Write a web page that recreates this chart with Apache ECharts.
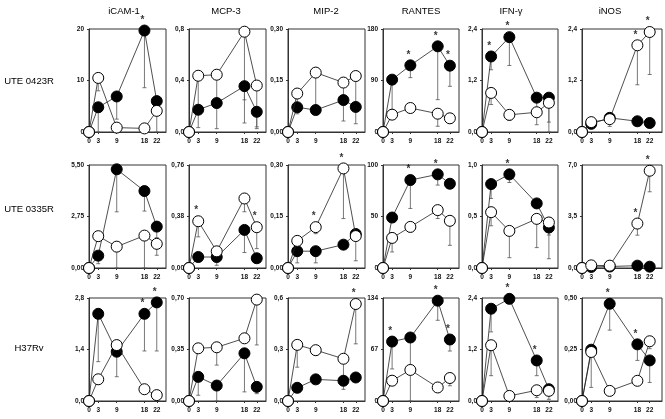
<!DOCTYPE html>
<html><head><meta charset="utf-8">
<script src="https://cdn.jsdelivr.net/npm/echarts@6/dist/echarts.min.js"></script>
<style>html,body{margin:0;padding:0;background:#fff}#c{width:665px;height:419px}</style>
</head><body><div id="c"></div><script>
const days = [0, 3, 9, 18, 22];
const cytokines = ['iCAM-1', 'MCP-3', 'MIP-2', 'RANTES', 'IFN-γ', 'iNOS'];
const strains = ['UTE 0423R', 'UTE 0335R', 'H37Rv'];
const yMax = [[20, 0.8, 0.30, 180, 2.4, 2.4], [5.5, 0.76, 0.30, 100, 1.0, 7.0], [2.8, 0.70, 0.6, 134, 2.4, 0.50]];
const yDecimals = [[0, 1, 2, 0, 1, 1], [2, 2, 2, 0, 1, 1], [1, 2, 1, 0, 1, 2]];

// UTE 0423R
const r1Filled = [
  [0, 4.8, 6.9, 19.7, 6.0],
  [0, 0.173, 0.225, 0.356, 0.157],
  [0, 0.072, 0.064, 0.093, 0.073],
  [0, 91.5, 116.5, 149.7, 115.9],
  [0, 1.76, 2.21, 0.80, 0.80],
  [0, 0.19, 0.33, 0.25, 0.21]
];
const r1FilledLow = [
  [null, 0, 2.5, 8.6, 4.8],
  [null, 0.034, 0.026, 0.07, 0.026],
  [null, 0.053, null, 0.032, 0.024],
  [null, 39, 95, 56.5, 79.8],
  [null, 1.45, 1.55, 0.17, 0.23],
  [null, null, null, null, null]
];
const r1Open = [
  [0, 10.5, 0.85, 0.7, 4.1],
  [0, 0.437, 0.445, 0.779, 0.361],
  [0, 0.112, 0.173, 0.144, 0.163],
  [0, 30.3, 41.9, 32, 23.9],
  [0, 0.91, 0.40, 0.46, 0.68],
  [0, 0.23, 0.30, 2.02, 2.33]
];
const r1OpenLow = [
  [null, 8.0, null, null, 0],
  [null, 0.18, 0.23, 0.25, 0.04],
  [null, 0.08, 0.07, 0.093, 0.06],
  [null, null, 36, 10, 15.7],
  [null, 0.64, 0.27, null, 0],
  [null, null, 0.13, 1.10, 1.34]
];
const r1FilledStar = [[0,0,0,1,0],[0,0,0,0,0],[0,0,0,0,0],[0,0,1,1,1],[0,1,1,0,0],[0,0,0,0,0]];
const r1OpenStar = [[0,0,0,0,0],[0,0,0,0,0],[0,0,0,0,0],[0,0,0,0,0],[0,0,0,0,0],[0,0,0,1,1]];

// UTE 0335R
const r2Filled = [
  [0, 0.66, 5.27, 4.11, 2.21],
  [0, 0.081, 0.081, 0.281, 0.072],
  [0, 0.049, 0.049, 0.068, 0.099],
  [0, 49, 85.4, 90.9, 81.8],
  [0, 0.815, 0.909, 0.627, 0.393],
  [0, 0.07, 0.10, 0.16, 0.09]
];
const r2FilledLow = [
  [null, 0.23, 3.0, 3.04, 1.62],
  [null, null, 0.02, 0.114, null],
  [null, 0.015, 0.015, 0.06, null],
  [null, null, 57.8, 80.5, null],
  [null, 0.675, 0.83, null, 0.32],
  [null, null, null, null, null]
];
const r2Open = [
  [0, 1.70, 1.14, 1.73, 1.29],
  [0, 0.345, 0.123, 0.513, 0.301],
  [0, 0.079, 0.119, 0.290, 0.093],
  [0, 29.2, 39.9, 56.2, 45.8],
  [0, 0.542, 0.360, 0.477, 0.442],
  [0, 0.18, 0.16, 3.02, 6.61]
];
const r2OpenLow = [
  [null, null, 0, 0, 0.68],
  [null, 0.23, null, 0.415, 0.143],
  [null, null, 0.10, 0.144, 0.021],
  [null, 15.6, 35, 48, 22],
  [null, 0.41, 0.10, 0.198, 0.09],
  [null, null, null, 2.23, 5.18]
];
const r2FilledStar = [[0,0,0,0,0],[0,0,0,0,0],[0,0,0,0,0],[0,0,1,1,0],[0,0,1,0,0],[0,0,0,0,0]];
const r2OpenStar = [[0,0,0,0,0],[0,1,0,0,1],[0,0,1,1,0],[0,0,0,0,0],[0,0,0,0,0],[0,0,0,1,1]];

// H37Rv
const r3Filled = [
  [0, 2.37, 1.34, 2.37, 2.68],
  [0, 0.164, 0.105, 0.324, 0.096],
  [0, 0.077, 0.126, 0.118, 0.137],
  [0, 77.3, 82.6, 130.5, 80.0],
  [0, 2.15, 2.38, 0.944, 0.275],
  [0, 0.249, 0.472, 0.275, 0.197]
];
const r3FilledLow = [
  [null, 1.07, 0.66, 1.36, 1.36],
  [null, 0.039, 0, 0.062, 0.05],
  [null, null, null, 0.068, null],
  [null, 41.7, 0, 105, 65],
  [null, 1.61, null, 0.59, null],
  [null, null, 0.344, 0.197, 0.09]
];
const r3Open = [
  [0, 0.59, 1.52, 0.32, 0.16],
  [0, 0.358, 0.365, 0.426, 0.689],
  [0, 0.327, 0.296, 0.246, 0.565],
  [0, 26.4, 40.4, 17.6, 29.9],
  [0, 1.30, 0.118, 0.25, 0.236],
  [0, 0.238, 0.049, 0.098, 0.290]
];
const r3OpenLow = [
  [null, 0.46, null, null, null],
  [null, null, 0.244, null, 0.381],
  [null, 0.197, 0.265, 0.118, 0.333],
  [null, null, null, 11.9, 19.8],
  [null, 0.59, null, 0.08, 0.04],
  [null, 0.066, null, null, 0.254]
];
const r3FilledStar = [[0,0,0,1,1],[0,0,0,0,0],[0,0,0,0,0],[0,1,0,1,1],[0,0,1,1,0],[0,0,1,1,0]];
const r3OpenStar = [[0,0,0,0,0],[0,0,0,0,0],[0,0,0,0,1],[0,0,0,0,0],[0,0,0,0,0],[0,0,0,0,0]];

// layout
const colLeft = [89, 189, 288, 383, 482, 582];
const colWidth = [77, 77, 77, 76, 76, 80];
const xMax = [25, 25, 25, 25, 25, 26];
const rowTop = [29, 165, 298];
const rowHeight = 103;
const titleX = [124, 226, 326, 421, 511, 610];
const rowLabelY = [81, 209, 348];

const rows = [
  {f: r1Filled, fl: r1FilledLow, o: r1Open, ol: r1OpenLow, fs: r1FilledStar, os: r1OpenStar},
  {f: r2Filled, fl: r2FilledLow, o: r2Open, ol: r2OpenLow, fs: r2FilledStar, os: r2OpenStar},
  {f: r3Filled, fl: r3FilledLow, o: r3Open, ol: r3OpenLow, fs: r3FilledStar, os: r3OpenStar}
];

const FONT = 'Liberation Sans, Arial, sans-serif';
const AX = '#333';
const grid = [], xAxis = [], yAxis = [], series = [], graphic = [];

rows.forEach((R, ri) => {
  cytokines.forEach((c, ci) => {
    const k = ri * 6 + ci;
    grid.push({left: colLeft[ci], top: rowTop[ri], width: colWidth[ci], height: rowHeight,
      show: true, borderColor: AX, borderWidth: 1, backgroundColor: 'transparent'});
    xAxis.push({gridIndex: k, type: 'value', min: 0, max: xMax[ci],
      axisLine: {show: true, onZero: false, lineStyle: {color: AX, width: 1}},
      axisTick: {show: true, customValues: days, length: 2, lineStyle: {color: AX}},
      axisLabel: {customValues: days, fontSize: 6.5, fontWeight: 'bold', color: '#111', margin: 6, fontFamily: FONT},
      splitLine: {show: false}});
    const M = yMax[ri][ci], d = yDecimals[ri][ci];
    yAxis.push({gridIndex: k, type: 'value', min: 0, max: M, interval: M / 2,
      axisLine: {show: true, onZero: false, lineStyle: {color: AX, width: 1}},
      axisTick: {show: true, length: 2, lineStyle: {color: AX}},
      axisLabel: {fontSize: 6.5, fontWeight: 'bold', color: '#111', margin: 5, fontFamily: FONT,
        formatter: v => v.toFixed(d).replace('.', ',')},
      splitLine: {show: false}});
    const eb = [];
    days.forEach((x, i) => {
      if (R.fl[ci][i] != null) eb.push([x, R.f[ci][i], R.fl[ci][i]]);
      if (R.ol[ci][i] != null) eb.push([x, R.o[ci][i], R.ol[ci][i]]);
    });
    series.push({type: 'custom', xAxisIndex: k, yAxisIndex: k, data: eb, z: 1, silent: true,
      encode: {x: 0, y: [1, 2]},
      renderItem: (p, api) => {
        const a = api.coord([api.value(0), api.value(1)]);
        const b = api.coord([api.value(0), api.value(2)]);
        return {type: 'group', children: [
          {type: 'line', shape: {x1: a[0], y1: a[1], x2: b[0], y2: b[1]}, style: {stroke: '#555', lineWidth: 0.8}},
          {type: 'line', shape: {x1: b[0] - 2, y1: b[1], x2: b[0] + 2, y2: b[1]}, style: {stroke: '#555', lineWidth: 0.8}}
        ]};
      }});
    series.push({type: 'line', xAxisIndex: k, yAxisIndex: k, clip: false, z: 3,
      data: days.map((x, i) => [x, R.f[ci][i]]),
      symbol: 'circle', symbolSize: 11, showAllSymbol: true,
      itemStyle: {color: '#000', borderColor: '#000', borderWidth: 1},
      lineStyle: {color: '#222', width: 0.8}});
    series.push({type: 'line', xAxisIndex: k, yAxisIndex: k, clip: false, z: 4,
      data: days.map((x, i) => [x, R.o[ci][i]]),
      symbol: 'circle', symbolSize: 11, showAllSymbol: true,
      itemStyle: {color: '#fff', borderColor: '#000', borderWidth: 1},
      lineStyle: {color: '#222', width: 0.8}});
    const st = [];
    days.forEach((x, i) => {
      if (R.fs[ci][i]) st.push([x, R.f[ci][i]]);
      if (R.os[ci][i]) st.push([x, R.o[ci][i]]);
    });
    series.push({type: 'scatter', xAxisIndex: k, yAxisIndex: k, data: st, clip: false, z: 5,
      symbolSize: 1, itemStyle: {color: 'rgba(0,0,0,0)'},
      label: {show: true, formatter: '*', position: 'top', distance: 5, offset: [-2, 0],
        fontSize: 10, fontWeight: 'bold', color: '#000', fontFamily: FONT}});
  });
});

cytokines.forEach((c, ci) => graphic.push({type: 'text', x: titleX[ci], y: 11,
  style: {text: c, font: '9.5px ' + FONT, fill: '#000', textAlign: 'center', textVerticalAlign: 'middle'}}));
strains.forEach((s, ri) => graphic.push({type: 'text', x: 29, y: rowLabelY[ri],
  style: {text: s, font: '9.5px ' + FONT, fill: '#000', textAlign: 'center', textVerticalAlign: 'middle'}}));

const chart = echarts.init(document.getElementById('c'), null, {renderer: 'canvas'});
chart.setOption({animation: false, backgroundColor: '#fff', grid, xAxis, yAxis, series, graphic});
</script></body></html>
